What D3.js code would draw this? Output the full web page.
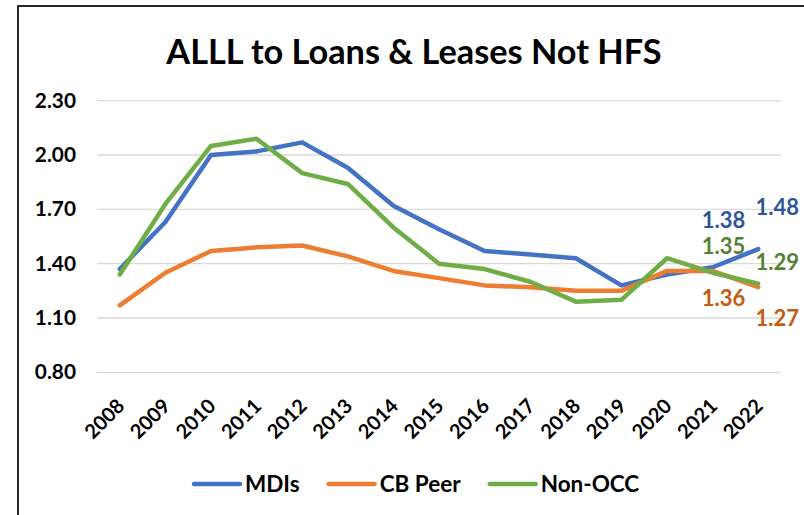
<!DOCTYPE html>
<html>
<head>
<meta charset="utf-8">
<script src="https://cdn.jsdelivr.net/npm/d3@7"></script>
<style>
    html, body { margin: 0; padding: 0; background: #fff; }
    #canvas { width: 804px; height: 515px; }
    text { font-family: Lato, "Open Sans", sans-serif; font-weight: bold; }
</style>
</head>
<body>
<div id="canvas"></div>
<script>
const years = ['2008', '2009', '2010', '2011', '2012', '2013', '2014', '2015', '2016', '2017', '2018', '2019', '2020', '2021', '2022'];
const mdis = [1.37, 1.63, 2.00, 2.02, 2.07, 1.93, 1.72, 1.59, 1.47, 1.45, 1.43, 1.28, 1.34, 1.38, 1.48];
const cbPeer = [1.17, 1.35, 1.47, 1.49, 1.50, 1.44, 1.36, 1.32, 1.28, 1.27, 1.25, 1.25, 1.36, 1.36, 1.27];
const nonOcc = [1.34, 1.73, 2.05, 2.09, 1.90, 1.84, 1.60, 1.40, 1.37, 1.30, 1.19, 1.20, 1.43, 1.35, 1.29];
const yTicks = [0.80, 1.10, 1.40, 1.70, 2.00, 2.30];
const seriesNames = ['MDIs', 'CB Peer', 'Non-OCC'];
const labelYears = ['2021', '2022'];

const lineColors = ['#4472C4', '#ED7D31', '#70AD47'];
const labelColors = ['#2F5597', '#C55A11', '#548235'];
// label offsets (dx, dy) from the point, per series, for 2021 and 2022
const labelOffsets = [
    [[11, -39], [19, -34]],
    [[11, 35], [19, 39]],
    [[11, -19], [19, -14]]
];

const series = [mdis, cbPeer, nonOcc].map((values, i) => ({
    name: seriesNames[i],
    values: values.map((v, j) => ({ year: years[j], value: v }))
}));

const canvas = document.getElementById('canvas');
const chart = d3.select(canvas)
    .append('svg')
    .attr('width', 804)
    .attr('height', 515);

chart.append('rect')
    .attr('x', 18)
    .attr('y', 6)
    .attr('width', 820)
    .attr('height', 540)
    .attr('fill', '#fff')
    .attr('stroke', '#111')
    .attr('stroke-width', 1.8);

const x = d3.scaleBand()
    .domain(years)
    .range([97, 781])
    .padding(0);
const y = d3.scaleLinear()
    .domain([0.8, 2.3])
    .range([372.3, 100.7]);
const cx = d => x(d) + x.bandwidth() / 2;

chart.append('text')
    .attr('x', 414)
    .attr('y', 64)
    .attr('text-anchor', 'middle')
    .style('font-size', '34.3px')
    .attr('fill', '#000')
    .text('ALLL to Loans & Leases Not HFS');

// gridlines
chart.append('g')
    .selectAll('line')
    .data(yTicks)
    .enter()
    .append('line')
    .attr('x1', 97)
    .attr('x2', 781)
    .attr('y1', d => y(d))
    .attr('y2', d => y(d))
    .attr('stroke', '#D9D9D9')
    .attr('stroke-width', 1.3);

// y axis
const yAxis = chart.append('g')
    .attr('transform', 'translate(80,0)')
    .call(d3.axisLeft(y).tickValues(yTicks).tickFormat(d3.format('.2f')).tickSize(0).tickPadding(4));
yAxis.select('.domain').remove();
yAxis.selectAll('text')
    .style('font-size', '20.8px')
    .attr('fill', '#000');

// x axis
const xAxis = chart.append('g')
    .attr('transform', 'translate(0,372.3)')
    .call(d3.axisBottom(x).tickSize(0));
xAxis.select('.domain').remove();
xAxis.selectAll('text')
    .style('font-size', '20px')
    .attr('fill', '#000')
    .attr('text-anchor', 'end')
    .attr('y', 0)
    .attr('dy', 0)
    .attr('transform', 'translate(6,35) rotate(-45)');

const line = d3.line()
    .x(d => cx(d.year))
    .y(d => y(d.value));

chart.append('g')
    .selectAll('path')
    .data(series)
    .enter()
    .append('path')
    .attr('d', d => line(d.values))
    .attr('fill', 'none')
    .attr('stroke', (d, i) => lineColors[i])
    .attr('stroke-width', 4.5)
    .attr('stroke-linejoin', 'round')
    .attr('stroke-linecap', 'round');

// data labels for last two years
series.forEach((s, i) => {
    const pts = s.values.filter(d => labelYears.includes(d.year));
    chart.append('g')
        .selectAll('text')
        .data(pts)
        .enter()
        .append('text')
        .attr('x', (d, j) => cx(d.year) + labelOffsets[i][j][0])
        .attr('y', (d, j) => y(d.value) + labelOffsets[i][j][1])
        .attr('text-anchor', 'middle')
        .style('font-size', '22px')
        .attr('fill', labelColors[i])
        .text(d => d3.format('.2f')(d.value));
});

// legend
const legend = chart.append('g');
let lx = 192;
series.forEach((s, i) => {
    legend.append('line')
        .attr('x1', lx + 2)
        .attr('x2', lx + 48)
        .attr('y1', 484)
        .attr('y2', 484)
        .attr('stroke', lineColors[i])
        .attr('stroke-width', 4.5)
        .attr('stroke-linecap', 'round');
    const t = legend.append('text')
        .attr('x', lx + 53)
        .attr('y', 492)
        .style('font-size', '22.5px')
        .attr('fill', '#000')
        .text(s.name);
    lx += 53 + t.node().getComputedTextLength() + 27;
});
</script>
</body>
</html>
